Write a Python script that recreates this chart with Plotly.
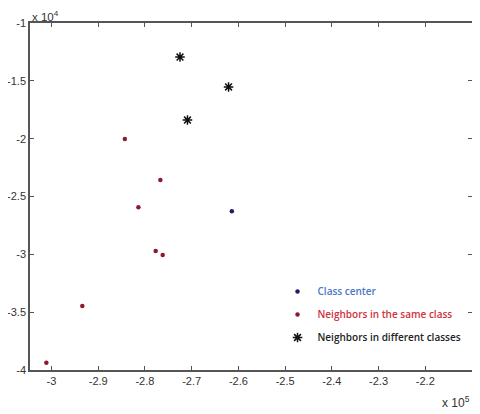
import plotly.graph_objects as go

# values as shown on the axes (x in 1e5, y in 1e4)
center_x = [-2.614]
center_y = [-2.628]

same_x = [-2.843, -2.767, -2.814, -2.777, -2.762, -2.934, -3.011]
same_y = [-2.003, -2.357, -2.593, -2.971, -3.006, -3.447, -3.937]

diff_x = [-2.725, -2.621, -2.709]
diff_y = [-1.294, -1.553, -1.839]

xticks = [-3, -2.9, -2.8, -2.7, -2.6, -2.5, -2.4, -2.3, -2.2, -2.1]
yticks = [-1, -1.5, -2, -2.5, -3, -3.5, -4]

fig = go.Figure()
fig.add_trace(go.Scatter(
    x=center_x, y=center_y, mode="markers",
    name='<span style="color:#4a78c8">Class center</span>',
    marker=dict(color="#1c1f6e", size=4.5), legendgroup="a"))
fig.add_trace(go.Scatter(
    x=same_x, y=same_y, mode="markers",
    name='<span style="color:#d0313d">Neighbors in the same class</span>',
    marker=dict(color="#8e1a30", size=4.5), legendgroup="b"))
fig.add_trace(go.Scatter(
    x=diff_x, y=diff_y, mode="markers",
    name='<span style="color:#222222">Neighbors in different classes</span>',
    marker=dict(color="#111111", size=8, symbol="asterisk-open",
                line=dict(color="#111111", width=1.5)), legendgroup="c"))

axis = dict(showline=True, linecolor="#555555", linewidth=1.5, mirror="ticks",
            ticks="inside", ticklen=4, tickcolor="#555555", showgrid=False,
            zeroline=False, tickfont=dict(family="Liberation Sans", size=11, color="#333333"))

fig.update_xaxes(range=[-3.046, -2.1], tickvals=xticks,
                 ticktext=[f"{v:g}" for v in xticks], **axis)
fig.update_yaxes(range=[-4, -1], tickvals=yticks,
                 ticktext=[f"{v:g}" for v in yticks], **axis)

# page has an 8px body margin, so the figure is a bit smaller than the window
fig.update_layout(
    width=472, height=406,
    margin=dict(l=22, r=8, t=15, b=44, autoexpand=False),
    plot_bgcolor="white", paper_bgcolor="white",
    showlegend=True,
    legend=dict(x=0.56, y=0.268, xanchor="left", yanchor="top",
                bgcolor="rgba(0,0,0,0)", tracegroupgap=4,
                font=dict(family="Open Sans", size=10, weight=600)),
    annotations=[
        dict(text="x 10<sup>4</sup>", x=0, y=1, xref="paper", yref="paper",
             xanchor="left", yanchor="bottom", showarrow=False, yshift=-2,
             font=dict(family="Liberation Sans", size=11.5, color="#333333")),
        dict(text="x 10<sup>5</sup>", x=1, y=0, xref="paper", yref="paper",
             xanchor="right", yanchor="top", showarrow=False, yshift=-22,
             font=dict(family="Liberation Sans", size=12, color="#333333")),
    ],
)

fig.write_html("out.html")
